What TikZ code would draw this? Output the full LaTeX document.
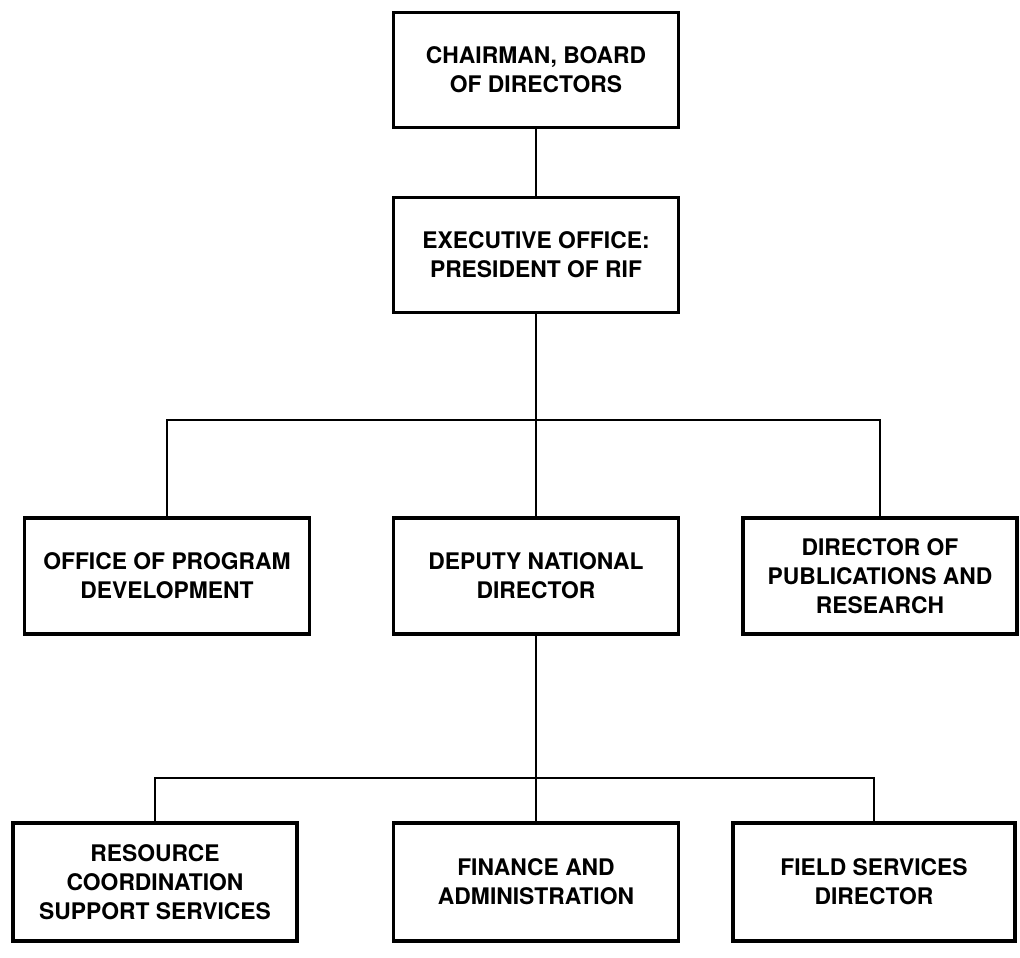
\documentclass[tikz,border=0pt]{standalone}
\usepackage{fontspec}
\setmainfont{TeX Gyre Heros}
\usepackage{tikz}
\usetikzlibrary{positioning}
\tikzset{box/.style = {draw, line width = 1.8pt, align = center, inner sep = 0,
                       minimum width = 5.7cm, minimum height = 2.32cm,
                       font = \bfseries\fontsize{13}{16.5}\selectfont}}
\tikzset{link/.style = {line width = 1.2pt}}

\begin{document}
\begin{tikzpicture}
      \useasboundingbox (0, 0) rectangle (20.4, -19.16);

      \node (chair) at (10.72, -1.40) [box, minimum height = 2.3cm] {CHAIRMAN, BOARD\\OF DIRECTORS};
      \node (exec) at (10.72, -5.10) [box, minimum height = 2.3cm] {EXECUTIVE OFFICE:\\PRESIDENT OF RIF};

      \coordinate (topl) at (3.34, -8.40);
      \coordinate (topr) at (17.60, -8.40);

      \node (prog) at (3.34, -11.52) [box] {OFFICE OF PROGRAM\\DEVELOPMENT};
      \node (dep) at (10.72, -11.52) [box] {DEPUTY NATIONAL\\DIRECTOR};
      \node (pub) at (17.60, -11.52) [box, minimum width = 5.48cm] {DIRECTOR OF\\PUBLICATIONS AND\\RESEARCH};

      \coordinate (botl) at (3.10, -15.56);
      \coordinate (botr) at (17.48, -15.56);

      \node (res) at (3.10, -17.64) [box, minimum width = 5.68cm, minimum height = 2.36cm] {RESOURCE\\COORDINATION\\SUPPORT SERVICES};
      \node (fin) at (10.72, -17.64) [box, minimum height = 2.36cm] {FINANCE AND\\ADMINISTRATION};
      \node (field) at (17.48, -17.64) [box, minimum width = 5.64cm, minimum height = 2.36cm] {FIELD SERVICES\\DIRECTOR};

      \draw [link] (chair) -- (exec);
      \draw [link] (exec) -- (dep);
      \draw [link] (prog) -- (topl) -- (topr) -- (pub);

      \draw [link] (dep) -- (fin);
      \draw [link] (res) -- (botl) -- (botr) -- (field);
\end{tikzpicture}
\end{document}
